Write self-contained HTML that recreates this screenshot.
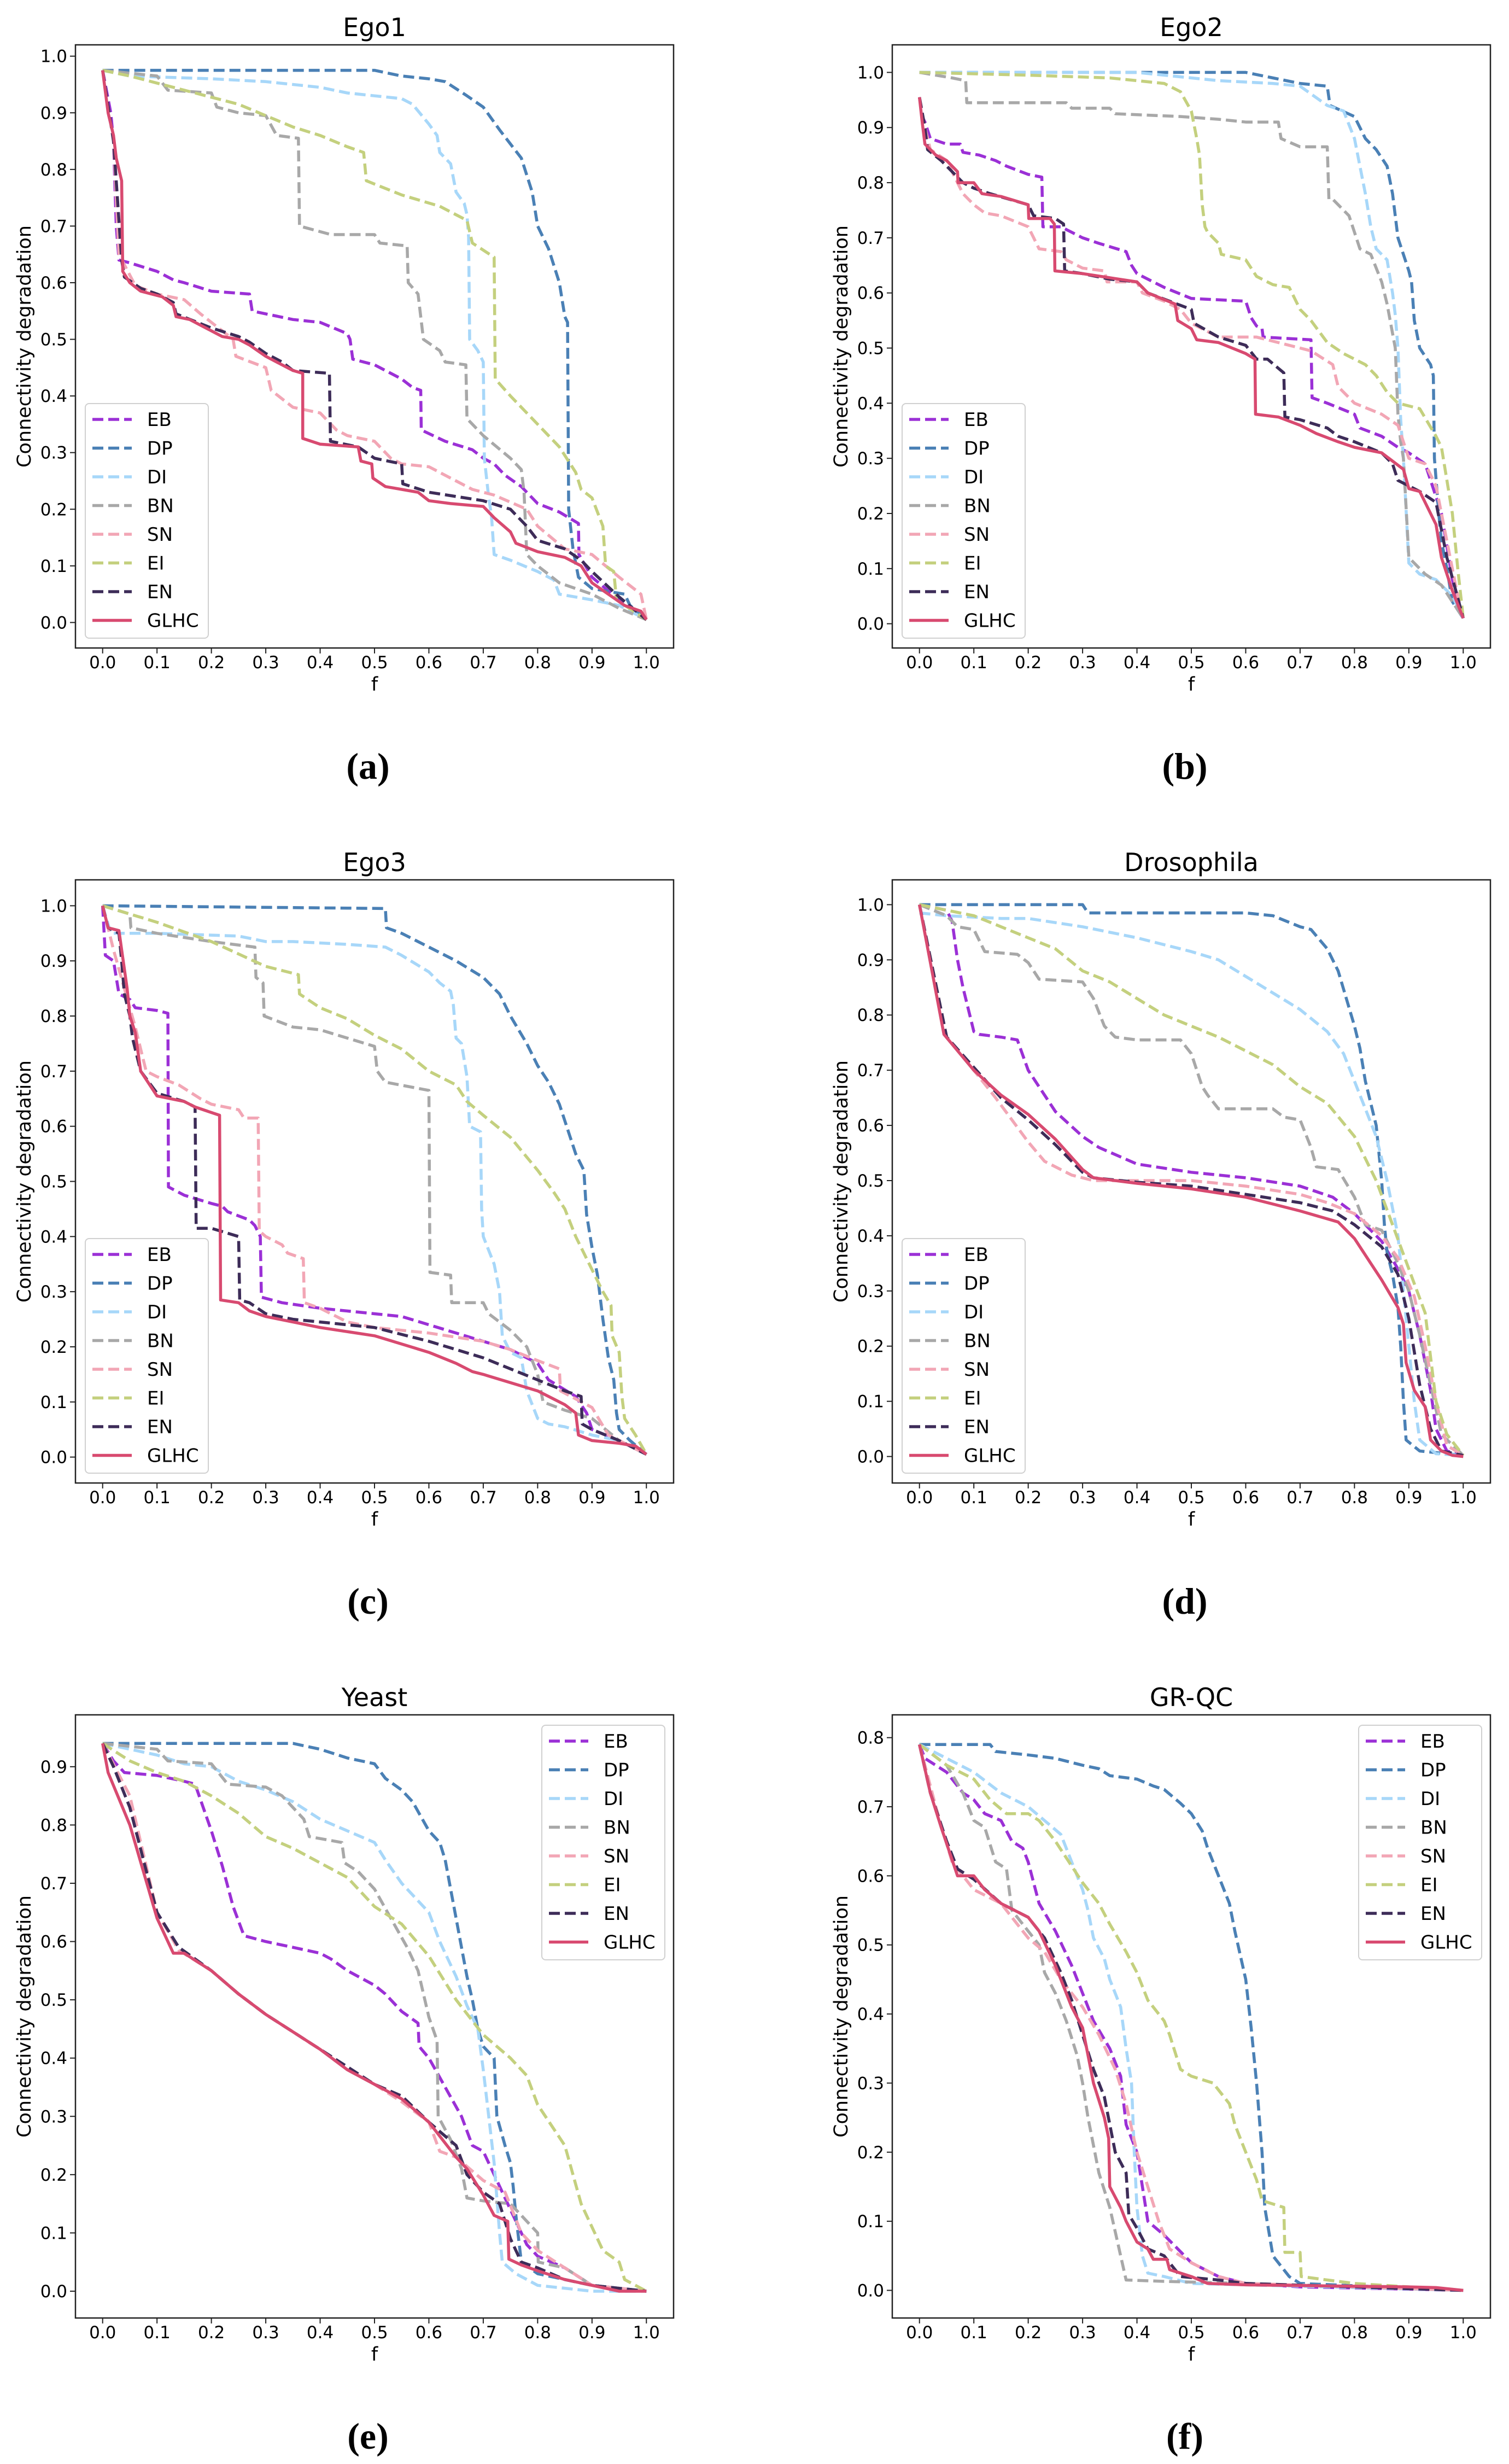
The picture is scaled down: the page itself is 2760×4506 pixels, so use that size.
<!DOCTYPE html>
<html><head><meta charset="utf-8">
<style>
html,body{margin:0;padding:0;background:#fff;}
svg{display:block;font-family:"DejaVu Sans","Liberation Sans",sans-serif;}
</style></head>
<body>
<svg id="fig" xmlns="http://www.w3.org/2000/svg" width="2760" height="4506" viewBox="0 0 2760 4506"></svg>
<script>
// ---------- DATA (f, connectivity degradation) ----------
const seriesNames = ["EB","DP","DI","BN","SN","EI","EN","GLHC"];
const xTicks = [0,0.1,0.2,0.3,0.4,0.5,0.6,0.7,0.8,0.9,1.0];
const yTicks10 = [0,0.1,0.2,0.3,0.4,0.5,0.6,0.7,0.8,0.9,1.0];
const yTicks9 = [0,0.1,0.2,0.3,0.4,0.5,0.6,0.7,0.8,0.9];
const yTicks8 = [0,0.1,0.2,0.3,0.4,0.5,0.6,0.7,0.8];
const panelTitles = ["Ego1","Ego2","Ego3","Drosophila","Yeast","GR-QC"];
const panelLetters = ["(a)","(b)","(c)","(d)","(e)","(f)"];

// Ego1
const ego1_EB=[[0,0.975],[0.015,0.9],[0.02,0.85],[0.025,0.7],[0.03,0.64],[0.05,0.635],[0.1,0.62],[0.13,0.605],[0.15,0.6],[0.2,0.585],[0.27,0.58],[0.275,0.55],[0.35,0.535],[0.4,0.53],[0.45,0.51],[0.455,0.5],[0.46,0.465],[0.5,0.455],[0.55,0.43],[0.57,0.415],[0.585,0.41],[0.586,0.34],[0.63,0.32],[0.68,0.305],[0.7,0.29],[0.72,0.28],[0.74,0.26],[0.77,0.24],[0.8,0.21],[0.84,0.195],[0.875,0.175],[0.876,0.12],[0.9,0.08],[0.95,0.04],[1.0,0.005]];
const ego1_DP=[[0,0.975],[0.5,0.975],[0.55,0.965],[0.6,0.96],[0.63,0.955],[0.67,0.93],[0.7,0.91],[0.73,0.87],[0.77,0.82],[0.79,0.76],[0.8,0.7],[0.82,0.66],[0.84,0.6],[0.85,0.54],[0.855,0.53],[0.857,0.2],[0.865,0.13],[0.875,0.08],[0.9,0.06],[0.96,0.05],[0.97,0.03],[1.0,0.005]];
const ego1_DI=[[0,0.975],[0.05,0.965],[0.2,0.96],[0.3,0.955],[0.4,0.945],[0.45,0.935],[0.55,0.925],[0.57,0.915],[0.6,0.88],[0.615,0.86],[0.62,0.83],[0.64,0.81],[0.65,0.76],[0.665,0.74],[0.67,0.72],[0.673,0.68],[0.675,0.5],[0.69,0.48],[0.7,0.46],[0.702,0.29],[0.71,0.22],[0.715,0.19],[0.72,0.12],[0.75,0.11],[0.8,0.09],[0.83,0.075],[0.84,0.05],[0.9,0.04],[0.95,0.03],[1.0,0.005]];
const ego1_BN=[[0,0.975],[0.1,0.965],[0.12,0.94],[0.2,0.935],[0.21,0.91],[0.25,0.9],[0.3,0.895],[0.32,0.86],[0.36,0.855],[0.362,0.7],[0.42,0.685],[0.5,0.685],[0.51,0.67],[0.56,0.665],[0.562,0.6],[0.58,0.58],[0.59,0.5],[0.62,0.48],[0.63,0.46],[0.668,0.455],[0.67,0.36],[0.7,0.33],[0.75,0.29],[0.77,0.27],[0.775,0.23],[0.78,0.12],[0.8,0.1],[0.84,0.07],[0.87,0.06],[0.9,0.05],[0.95,0.025],[1.0,0.005]];
const ego1_SN=[[0,0.975],[0.02,0.85],[0.03,0.65],[0.06,0.595],[0.1,0.58],[0.15,0.57],[0.18,0.545],[0.2,0.53],[0.24,0.5],[0.245,0.47],[0.3,0.45],[0.31,0.41],[0.35,0.38],[0.4,0.37],[0.42,0.35],[0.43,0.34],[0.45,0.33],[0.5,0.32],[0.53,0.29],[0.55,0.28],[0.6,0.275],[0.65,0.25],[0.68,0.235],[0.72,0.225],[0.78,0.2],[0.8,0.17],[0.85,0.13],[0.9,0.12],[0.95,0.08],[0.99,0.05],[1.0,0.005]];
const ego1_EI=[[0,0.975],[0.05,0.965],[0.15,0.94],[0.25,0.915],[0.3,0.895],[0.35,0.875],[0.4,0.86],[0.45,0.84],[0.48,0.83],[0.485,0.78],[0.55,0.755],[0.62,0.735],[0.67,0.71],[0.68,0.67],[0.72,0.645],[0.722,0.43],[0.75,0.4],[0.8,0.35],[0.84,0.31],[0.87,0.265],[0.88,0.235],[0.9,0.22],[0.92,0.17],[0.925,0.1],[0.94,0.09],[0.945,0.04],[1.0,0.005]];
const ego1_EN=[[0,0.975],[0.02,0.85],[0.035,0.64],[0.04,0.61],[0.07,0.59],[0.1,0.58],[0.13,0.565],[0.135,0.545],[0.2,0.52],[0.25,0.505],[0.27,0.495],[0.3,0.475],[0.33,0.46],[0.35,0.445],[0.417,0.44],[0.419,0.32],[0.47,0.31],[0.5,0.29],[0.55,0.28],[0.552,0.245],[0.6,0.23],[0.7,0.215],[0.75,0.2],[0.78,0.17],[0.8,0.145],[0.85,0.13],[0.88,0.11],[0.9,0.09],[0.95,0.045],[1.0,0.005]];
const ego1_GLHC=[[0,0.975],[0.01,0.9],[0.02,0.86],[0.025,0.82],[0.035,0.78],[0.037,0.62],[0.05,0.6],[0.07,0.585],[0.11,0.575],[0.13,0.56],[0.135,0.54],[0.16,0.535],[0.2,0.515],[0.22,0.505],[0.25,0.5],[0.27,0.49],[0.3,0.47],[0.33,0.455],[0.35,0.445],[0.368,0.44],[0.368,0.325],[0.4,0.315],[0.47,0.31],[0.475,0.285],[0.495,0.28],[0.497,0.255],[0.52,0.24],[0.58,0.23],[0.6,0.215],[0.64,0.21],[0.7,0.205],[0.72,0.185],[0.75,0.16],[0.76,0.14],[0.8,0.125],[0.85,0.115],[0.88,0.1],[0.9,0.07],[0.93,0.05],[0.96,0.03],[0.99,0.02],[1.0,0.005]];

// Ego2
const ego2_EB=[[0,0.955],[0.005,0.92],[0.01,0.91],[0.02,0.88],[0.05,0.87],[0.075,0.87],[0.08,0.855],[0.11,0.85],[0.14,0.84],[0.16,0.83],[0.2,0.815],[0.225,0.81],[0.227,0.72],[0.26,0.72],[0.3,0.7],[0.33,0.69],[0.38,0.675],[0.39,0.65],[0.4,0.635],[0.45,0.61],[0.5,0.59],[0.6,0.585],[0.61,0.555],[0.62,0.54],[0.63,0.535],[0.632,0.52],[0.72,0.515],[0.722,0.41],[0.75,0.4],[0.8,0.38],[0.81,0.355],[0.85,0.34],[0.88,0.32],[0.9,0.31],[0.93,0.29],[0.96,0.2],[0.98,0.08],[1.0,0.01]];
const ego2_DP=[[0,1.0],[0.6,1.0],[0.65,0.99],[0.7,0.98],[0.75,0.975],[0.755,0.94],[0.8,0.92],[0.82,0.88],[0.84,0.86],[0.86,0.83],[0.87,0.78],[0.88,0.7],[0.9,0.64],[0.905,0.62],[0.91,0.55],[0.92,0.5],[0.94,0.47],[0.945,0.45],[0.947,0.3],[0.955,0.2],[0.96,0.15],[0.97,0.1],[0.98,0.04],[1.0,0.01]];
const ego2_DI=[[0,1.0],[0.4,1.0],[0.5,0.99],[0.55,0.985],[0.65,0.98],[0.7,0.975],[0.75,0.94],[0.78,0.93],[0.8,0.88],[0.81,0.83],[0.82,0.78],[0.83,0.72],[0.84,0.68],[0.86,0.66],[0.87,0.6],[0.875,0.56],[0.88,0.5],[0.885,0.37],[0.89,0.3],[0.9,0.11],[0.92,0.09],[0.95,0.08],[0.98,0.05],[1.0,0.01]];
const ego2_BN=[[0,1.0],[0.06,0.99],[0.085,0.985],[0.087,0.945],[0.27,0.945],[0.28,0.935],[0.35,0.935],[0.36,0.925],[0.48,0.92],[0.55,0.915],[0.6,0.91],[0.66,0.91],[0.665,0.88],[0.7,0.865],[0.75,0.865],[0.753,0.77],[0.76,0.77],[0.79,0.74],[0.8,0.71],[0.81,0.68],[0.83,0.67],[0.85,0.62],[0.86,0.58],[0.875,0.5],[0.88,0.38],[0.885,0.33],[0.89,0.3],[0.9,0.12],[0.93,0.09],[0.96,0.07],[1.0,0.01]];
const ego2_SN=[[0,0.955],[0.01,0.9],[0.02,0.86],[0.05,0.84],[0.07,0.8],[0.08,0.78],[0.1,0.76],[0.12,0.745],[0.15,0.74],[0.2,0.72],[0.21,0.7],[0.22,0.68],[0.26,0.675],[0.27,0.66],[0.3,0.645],[0.34,0.64],[0.345,0.62],[0.4,0.62],[0.41,0.6],[0.45,0.585],[0.48,0.57],[0.5,0.545],[0.55,0.52],[0.62,0.52],[0.7,0.5],[0.72,0.495],[0.76,0.47],[0.77,0.43],[0.8,0.4],[0.85,0.38],[0.88,0.36],[0.9,0.3],[0.93,0.29],[0.95,0.25],[0.97,0.15],[0.99,0.05],[1.0,0.01]];
const ego2_EI=[[0,1.0],[0.2,0.995],[0.35,0.99],[0.4,0.985],[0.45,0.98],[0.48,0.965],[0.5,0.93],[0.51,0.88],[0.515,0.85],[0.52,0.76],[0.525,0.72],[0.53,0.71],[0.55,0.69],[0.555,0.67],[0.6,0.66],[0.62,0.63],[0.65,0.615],[0.68,0.61],[0.7,0.57],[0.72,0.55],[0.75,0.51],[0.78,0.49],[0.8,0.48],[0.82,0.47],[0.84,0.45],[0.86,0.42],[0.88,0.4],[0.92,0.39],[0.95,0.34],[0.96,0.32],[0.98,0.2],[0.99,0.1],[1.0,0.01]];
const ego2_EN=[[0,0.955],[0.01,0.9],[0.015,0.86],[0.04,0.84],[0.07,0.81],[0.08,0.8],[0.1,0.79],[0.13,0.78],[0.2,0.76],[0.21,0.74],[0.25,0.735],[0.265,0.725],[0.267,0.64],[0.3,0.635],[0.35,0.625],[0.4,0.62],[0.42,0.6],[0.5,0.57],[0.505,0.545],[0.55,0.52],[0.6,0.505],[0.62,0.48],[0.64,0.48],[0.67,0.455],[0.672,0.375],[0.7,0.37],[0.75,0.355],[0.77,0.34],[0.8,0.33],[0.85,0.31],[0.87,0.29],[0.88,0.26],[0.92,0.24],[0.95,0.22],[0.97,0.12],[1.0,0.01]];
const ego2_GLHC=[[0,0.955],[0.005,0.91],[0.01,0.87],[0.03,0.85],[0.05,0.84],[0.07,0.82],[0.071,0.8],[0.1,0.8],[0.115,0.78],[0.15,0.775],[0.2,0.76],[0.201,0.735],[0.24,0.735],[0.248,0.725],[0.249,0.64],[0.3,0.635],[0.4,0.62],[0.42,0.6],[0.47,0.58],[0.475,0.55],[0.5,0.535],[0.51,0.515],[0.55,0.51],[0.6,0.49],[0.617,0.48],[0.618,0.38],[0.66,0.375],[0.7,0.36],[0.73,0.345],[0.77,0.33],[0.8,0.32],[0.85,0.31],[0.89,0.28],[0.9,0.245],[0.92,0.24],[0.95,0.18],[0.96,0.12],[0.98,0.06],[1.0,0.01]];

// Ego3
const ego3_EB=[[0,1.0],[0.005,0.91],[0.02,0.9],[0.03,0.84],[0.05,0.83],[0.06,0.815],[0.1,0.81],[0.12,0.805],[0.121,0.49],[0.15,0.475],[0.2,0.46],[0.22,0.455],[0.23,0.445],[0.27,0.43],[0.28,0.42],[0.29,0.4],[0.292,0.29],[0.33,0.28],[0.4,0.27],[0.5,0.26],[0.55,0.255],[0.6,0.24],[0.65,0.225],[0.7,0.21],[0.75,0.195],[0.8,0.17],[0.82,0.14],[0.87,0.11],[0.89,0.08],[0.9,0.05],[0.95,0.03],[1.0,0.005]];
const ego3_DP=[[0,1.0],[0.52,0.995],[0.522,0.96],[0.55,0.95],[0.6,0.925],[0.65,0.9],[0.7,0.87],[0.73,0.84],[0.75,0.8],[0.78,0.75],[0.8,0.71],[0.82,0.68],[0.84,0.64],[0.86,0.58],[0.87,0.55],[0.885,0.52],[0.89,0.44],[0.9,0.38],[0.91,0.33],[0.92,0.25],[0.93,0.18],[0.94,0.14],[0.945,0.08],[0.95,0.05],[0.97,0.03],[1.0,0.005]];
const ego3_DI=[[0,1.0],[0.015,0.95],[0.1,0.95],[0.25,0.945],[0.3,0.935],[0.35,0.935],[0.45,0.93],[0.52,0.925],[0.55,0.91],[0.6,0.88],[0.62,0.86],[0.64,0.845],[0.645,0.82],[0.65,0.76],[0.66,0.75],[0.665,0.72],[0.67,0.69],[0.675,0.6],[0.695,0.59],[0.697,0.45],[0.7,0.4],[0.72,0.35],[0.73,0.3],[0.735,0.22],[0.75,0.19],[0.77,0.18],[0.78,0.12],[0.8,0.07],[0.82,0.06],[0.85,0.055],[0.9,0.04],[0.95,0.03],[1.0,0.005]];
const ego3_BN=[[0,1.0],[0.05,0.985],[0.052,0.96],[0.1,0.95],[0.2,0.935],[0.28,0.925],[0.282,0.87],[0.295,0.86],[0.297,0.8],[0.35,0.78],[0.4,0.775],[0.45,0.76],[0.5,0.745],[0.505,0.7],[0.52,0.68],[0.6,0.665],[0.602,0.335],[0.64,0.33],[0.642,0.28],[0.7,0.28],[0.71,0.26],[0.75,0.23],[0.78,0.2],[0.8,0.15],[0.81,0.1],[0.85,0.085],[0.9,0.07],[0.95,0.03],[1.0,0.005]];
const ego3_SN=[[0,1.0],[0.02,0.92],[0.04,0.85],[0.06,0.78],[0.07,0.74],[0.08,0.7],[0.1,0.69],[0.14,0.675],[0.18,0.65],[0.2,0.64],[0.25,0.63],[0.26,0.615],[0.286,0.615],[0.288,0.41],[0.3,0.4],[0.33,0.385],[0.34,0.37],[0.369,0.36],[0.371,0.28],[0.4,0.27],[0.45,0.245],[0.5,0.235],[0.6,0.225],[0.7,0.21],[0.75,0.195],[0.8,0.175],[0.84,0.16],[0.842,0.12],[0.9,0.09],[0.93,0.04],[1.0,0.005]];
const ego3_EI=[[0,1.0],[0.1,0.97],[0.2,0.935],[0.3,0.89],[0.36,0.875],[0.362,0.84],[0.4,0.815],[0.45,0.795],[0.5,0.765],[0.55,0.74],[0.6,0.7],[0.65,0.675],[0.67,0.645],[0.7,0.62],[0.75,0.58],[0.8,0.52],[0.83,0.48],[0.85,0.45],[0.87,0.4],[0.89,0.36],[0.92,0.3],[0.935,0.275],[0.937,0.22],[0.95,0.19],[0.955,0.11],[0.96,0.07],[0.98,0.04],[1.0,0.005]];
const ego3_EN=[[0,1.0],[0.01,0.96],[0.03,0.95],[0.035,0.9],[0.04,0.84],[0.05,0.8],[0.055,0.76],[0.07,0.7],[0.1,0.66],[0.15,0.645],[0.17,0.635],[0.172,0.415],[0.2,0.415],[0.25,0.4],[0.252,0.285],[0.27,0.28],[0.3,0.26],[0.35,0.25],[0.4,0.245],[0.5,0.235],[0.6,0.21],[0.65,0.195],[0.7,0.18],[0.75,0.16],[0.8,0.14],[0.85,0.12],[0.88,0.11],[0.882,0.06],[0.9,0.05],[0.95,0.03],[1.0,0.005]];
const ego3_GLHC=[[0,1.0],[0.01,0.96],[0.03,0.955],[0.035,0.92],[0.045,0.85],[0.05,0.8],[0.06,0.77],[0.07,0.7],[0.1,0.655],[0.15,0.645],[0.17,0.635],[0.2,0.625],[0.215,0.62],[0.217,0.285],[0.25,0.28],[0.27,0.265],[0.3,0.255],[0.35,0.245],[0.4,0.235],[0.5,0.22],[0.55,0.205],[0.6,0.19],[0.65,0.17],[0.68,0.155],[0.7,0.15],[0.75,0.135],[0.8,0.12],[0.85,0.095],[0.87,0.08],[0.875,0.04],[0.9,0.03],[0.95,0.025],[0.98,0.02],[1.0,0.005]];

// Drosophila
const dros_EB=[[0,1.0],[0.05,0.99],[0.06,0.97],[0.07,0.9],[0.08,0.85],[0.1,0.77],[0.11,0.765],[0.15,0.76],[0.18,0.755],[0.2,0.7],[0.22,0.67],[0.25,0.625],[0.3,0.58],[0.33,0.56],[0.4,0.53],[0.5,0.515],[0.6,0.505],[0.7,0.49],[0.76,0.47],[0.8,0.44],[0.85,0.39],[0.88,0.34],[0.9,0.3],[0.92,0.22],[0.94,0.12],[0.95,0.05],[0.97,0.01],[1.0,0.002]];
const dros_DP=[[0,1.0],[0.3,1.0],[0.31,0.985],[0.6,0.985],[0.65,0.98],[0.7,0.96],[0.72,0.955],[0.75,0.92],[0.77,0.88],[0.8,0.78],[0.81,0.74],[0.82,0.68],[0.83,0.64],[0.84,0.6],[0.85,0.5],[0.855,0.42],[0.86,0.37],[0.87,0.33],[0.88,0.27],[0.885,0.2],[0.89,0.1],[0.895,0.03],[0.92,0.01],[1.0,0.002]];
const dros_DI=[[0,0.985],[0.05,0.98],[0.15,0.975],[0.2,0.975],[0.3,0.96],[0.4,0.94],[0.5,0.915],[0.55,0.9],[0.6,0.87],[0.65,0.84],[0.7,0.81],[0.75,0.77],[0.78,0.73],[0.8,0.68],[0.82,0.63],[0.84,0.58],[0.86,0.5],[0.88,0.4],[0.89,0.3],[0.9,0.2],[0.91,0.1],[0.92,0.03],[0.95,0.005],[1.0,0.002]];
const dros_BN=[[0,1.0],[0.05,0.98],[0.07,0.96],[0.1,0.955],[0.12,0.915],[0.18,0.91],[0.2,0.895],[0.22,0.865],[0.3,0.86],[0.32,0.83],[0.34,0.78],[0.36,0.76],[0.4,0.755],[0.48,0.755],[0.5,0.73],[0.52,0.67],[0.53,0.655],[0.55,0.63],[0.65,0.63],[0.67,0.615],[0.7,0.61],[0.72,0.56],[0.73,0.525],[0.77,0.52],[0.8,0.47],[0.82,0.42],[0.85,0.41],[0.88,0.35],[0.9,0.3],[0.92,0.22],[0.94,0.13],[0.96,0.04],[1.0,0.002]];
const dros_SN=[[0,1.0],[0.05,0.76],[0.1,0.7],[0.14,0.65],[0.2,0.57],[0.23,0.535],[0.28,0.51],[0.32,0.5],[0.5,0.5],[0.6,0.49],[0.7,0.475],[0.75,0.46],[0.8,0.44],[0.85,0.4],[0.88,0.36],[0.91,0.29],[0.93,0.2],[0.95,0.1],[0.97,0.02],[1.0,0.002]];
const dros_EI=[[0,1.0],[0.1,0.98],[0.15,0.96],[0.2,0.94],[0.25,0.92],[0.3,0.88],[0.35,0.86],[0.4,0.83],[0.45,0.8],[0.5,0.78],[0.55,0.76],[0.6,0.735],[0.65,0.71],[0.7,0.67],[0.75,0.64],[0.8,0.58],[0.84,0.5],[0.87,0.42],[0.9,0.34],[0.93,0.26],[0.95,0.1],[0.97,0.04],[1.0,0.002]];
const dros_EN=[[0,1.0],[0.05,0.76],[0.1,0.705],[0.15,0.65],[0.2,0.61],[0.25,0.565],[0.3,0.515],[0.32,0.505],[0.4,0.497],[0.5,0.49],[0.6,0.475],[0.7,0.46],[0.76,0.445],[0.8,0.42],[0.85,0.38],[0.88,0.33],[0.9,0.25],[0.92,0.13],[0.94,0.05],[0.96,0.01],[1.0,0.002]];
const dros_GLHC=[[0,1.0],[0.045,0.765],[0.1,0.7],[0.15,0.655],[0.2,0.62],[0.25,0.575],[0.3,0.52],[0.32,0.505],[0.4,0.495],[0.5,0.485],[0.6,0.47],[0.7,0.445],[0.77,0.425],[0.8,0.395],[0.83,0.35],[0.85,0.32],[0.88,0.27],[0.89,0.24],[0.895,0.17],[0.91,0.12],[0.93,0.09],[0.94,0.03],[0.96,0.01],[0.98,0.002],[1.0,0.0]];

// Yeast
const yeast_EB=[[0,0.94],[0.02,0.91],[0.04,0.89],[0.1,0.885],[0.15,0.875],[0.17,0.87],[0.2,0.79],[0.22,0.73],[0.24,0.66],[0.26,0.61],[0.3,0.6],[0.35,0.59],[0.4,0.58],[0.42,0.57],[0.45,0.55],[0.5,0.525],[0.52,0.51],[0.55,0.48],[0.58,0.46],[0.582,0.42],[0.6,0.4],[0.63,0.35],[0.66,0.3],[0.68,0.25],[0.7,0.24],[0.72,0.2],[0.75,0.14],[0.78,0.08],[0.8,0.06],[0.85,0.04],[0.9,0.01],[1.0,0.0]];
const yeast_DP=[[0,0.94],[0.35,0.94],[0.4,0.93],[0.45,0.915],[0.5,0.905],[0.52,0.88],[0.55,0.86],[0.57,0.84],[0.6,0.79],[0.62,0.77],[0.63,0.74],[0.64,0.69],[0.65,0.64],[0.66,0.59],[0.67,0.54],[0.68,0.5],[0.69,0.45],[0.7,0.42],[0.72,0.4],[0.725,0.3],[0.74,0.25],[0.75,0.22],[0.755,0.18],[0.76,0.13],[0.77,0.05],[0.8,0.03],[0.85,0.02],[0.9,0.01],[1.0,0.0]];
const yeast_DI=[[0,0.94],[0.1,0.92],[0.15,0.905],[0.2,0.9],[0.25,0.875],[0.3,0.86],[0.35,0.84],[0.4,0.81],[0.45,0.79],[0.5,0.77],[0.52,0.74],[0.55,0.7],[0.6,0.65],[0.62,0.6],[0.65,0.54],[0.67,0.49],[0.69,0.45],[0.7,0.38],[0.71,0.3],[0.72,0.22],[0.73,0.1],[0.735,0.05],[0.76,0.03],[0.8,0.01],[0.9,0.0],[1.0,0.0]];
const yeast_BN=[[0,0.94],[0.1,0.93],[0.12,0.91],[0.2,0.905],[0.23,0.87],[0.3,0.865],[0.33,0.85],[0.37,0.81],[0.38,0.78],[0.44,0.77],[0.445,0.735],[0.47,0.72],[0.5,0.69],[0.53,0.64],[0.56,0.59],[0.58,0.55],[0.6,0.47],[0.615,0.43],[0.617,0.3],[0.64,0.26],[0.66,0.21],[0.67,0.16],[0.7,0.155],[0.75,0.15],[0.77,0.13],[0.8,0.1],[0.801,0.05],[0.85,0.04],[0.9,0.01],[1.0,0.0]];
const yeast_SN=[[0,0.94],[0.05,0.85],[0.1,0.65],[0.14,0.585],[0.2,0.55],[0.25,0.51],[0.3,0.475],[0.35,0.445],[0.4,0.415],[0.45,0.38],[0.5,0.355],[0.55,0.325],[0.6,0.29],[0.62,0.24],[0.65,0.23],[0.7,0.19],[0.74,0.17],[0.77,0.1],[0.8,0.07],[0.85,0.04],[0.9,0.01],[1.0,0.0]];
const yeast_EI=[[0,0.94],[0.05,0.91],[0.1,0.89],[0.15,0.875],[0.2,0.85],[0.25,0.82],[0.3,0.78],[0.35,0.76],[0.4,0.735],[0.45,0.71],[0.5,0.66],[0.55,0.63],[0.6,0.575],[0.65,0.5],[0.7,0.44],[0.75,0.4],[0.78,0.37],[0.8,0.32],[0.85,0.25],[0.88,0.15],[0.9,0.11],[0.92,0.07],[0.95,0.05],[0.96,0.02],[1.0,0.0]];
const yeast_EN=[[0,0.94],[0.02,0.9],[0.05,0.83],[0.1,0.65],[0.14,0.59],[0.2,0.55],[0.25,0.51],[0.3,0.475],[0.35,0.445],[0.4,0.415],[0.45,0.385],[0.5,0.355],[0.55,0.335],[0.6,0.29],[0.65,0.25],[0.67,0.2],[0.7,0.17],[0.73,0.15],[0.75,0.09],[0.77,0.05],[0.8,0.04],[0.85,0.02],[0.9,0.01],[1.0,0.0]];
const yeast_GLHC=[[0,0.94],[0.01,0.89],[0.05,0.8],[0.1,0.64],[0.13,0.58],[0.15,0.58],[0.2,0.55],[0.25,0.51],[0.3,0.475],[0.35,0.445],[0.4,0.415],[0.45,0.38],[0.5,0.355],[0.55,0.33],[0.6,0.29],[0.65,0.23],[0.67,0.21],[0.7,0.165],[0.72,0.13],[0.745,0.12],[0.747,0.055],[0.77,0.045],[0.8,0.035],[0.85,0.02],[0.9,0.01],[0.95,0.0],[1.0,0.0]];

// GR-QC
const grqc_EB=[[0,0.79],[0.01,0.77],[0.05,0.75],[0.08,0.72],[0.1,0.71],[0.12,0.69],[0.15,0.68],[0.17,0.65],[0.19,0.64],[0.2,0.62],[0.22,0.56],[0.25,0.52],[0.28,0.47],[0.3,0.43],[0.32,0.39],[0.35,0.35],[0.37,0.31],[0.38,0.24],[0.4,0.2],[0.41,0.15],[0.42,0.1],[0.45,0.08],[0.5,0.04],[0.55,0.02],[0.6,0.01],[0.7,0.005],[1.0,0.0]];
const grqc_DP=[[0,0.79],[0.13,0.79],[0.14,0.78],[0.2,0.775],[0.25,0.77],[0.3,0.76],[0.33,0.755],[0.35,0.745],[0.4,0.74],[0.43,0.73],[0.45,0.725],[0.48,0.705],[0.5,0.69],[0.52,0.665],[0.53,0.64],[0.55,0.6],[0.57,0.56],[0.58,0.52],[0.6,0.45],[0.61,0.38],[0.62,0.3],[0.63,0.2],[0.635,0.12],[0.65,0.05],[0.68,0.02],[0.7,0.01],[1.0,0.0]];
const grqc_DI=[[0,0.79],[0.05,0.77],[0.1,0.75],[0.15,0.72],[0.2,0.7],[0.23,0.68],[0.26,0.66],[0.28,0.62],[0.3,0.58],[0.31,0.55],[0.32,0.51],[0.34,0.48],[0.35,0.45],[0.37,0.41],[0.38,0.35],[0.39,0.3],[0.395,0.2],[0.4,0.12],[0.41,0.05],[0.42,0.025],[0.45,0.02],[0.5,0.01],[1.0,0.0]];
const grqc_BN=[[0,0.79],[0.05,0.76],[0.08,0.72],[0.1,0.68],[0.12,0.67],[0.14,0.62],[0.16,0.61],[0.17,0.55],[0.2,0.52],[0.22,0.5],[0.23,0.46],[0.25,0.43],[0.27,0.39],[0.29,0.34],[0.3,0.3],[0.31,0.25],[0.33,0.17],[0.35,0.12],[0.37,0.05],[0.38,0.015],[0.45,0.013],[0.6,0.01],[1.0,0.0]];
const grqc_SN=[[0,0.79],[0.03,0.7],[0.06,0.62],[0.1,0.58],[0.15,0.56],[0.2,0.51],[0.23,0.49],[0.26,0.45],[0.3,0.41],[0.33,0.37],[0.36,0.32],[0.38,0.27],[0.4,0.2],[0.42,0.15],[0.44,0.1],[0.46,0.06],[0.5,0.04],[0.55,0.02],[0.6,0.01],[1.0,0.0]];
const grqc_EI=[[0,0.79],[0.05,0.76],[0.1,0.74],[0.13,0.71],[0.16,0.69],[0.2,0.69],[0.22,0.68],[0.25,0.65],[0.3,0.59],[0.33,0.56],[0.35,0.53],[0.38,0.49],[0.4,0.46],[0.42,0.42],[0.45,0.39],[0.46,0.37],[0.48,0.32],[0.5,0.31],[0.54,0.3],[0.57,0.27],[0.58,0.24],[0.6,0.2],[0.62,0.16],[0.63,0.13],[0.67,0.12],[0.672,0.055],[0.7,0.055],[0.702,0.02],[0.75,0.015],[0.8,0.01],[1.0,0.0]];
const grqc_EN=[[0,0.79],[0.02,0.72],[0.05,0.65],[0.07,0.61],[0.1,0.595],[0.15,0.56],[0.2,0.54],[0.23,0.51],[0.26,0.46],[0.28,0.42],[0.3,0.37],[0.32,0.32],[0.34,0.28],[0.36,0.2],[0.38,0.17],[0.385,0.11],[0.4,0.09],[0.42,0.06],[0.45,0.05],[0.48,0.02],[0.55,0.015],[0.6,0.01],[1.0,0.0]];
const grqc_GLHC=[[0,0.79],[0.02,0.72],[0.04,0.67],[0.07,0.6],[0.1,0.6],[0.12,0.58],[0.15,0.56],[0.2,0.54],[0.22,0.52],[0.25,0.47],[0.28,0.41],[0.3,0.38],[0.32,0.3],[0.34,0.25],[0.348,0.22],[0.35,0.15],[0.37,0.12],[0.38,0.1],[0.4,0.07],[0.42,0.06],[0.43,0.045],[0.455,0.045],[0.46,0.03],[0.5,0.02],[0.53,0.01],[0.6,0.008],[0.9,0.005],[0.95,0.004],[1.0,0.0]];

const panelSeries = [
  [ego1_EB,ego1_DP,ego1_DI,ego1_BN,ego1_SN,ego1_EI,ego1_EN,ego1_GLHC],
  [ego2_EB,ego2_DP,ego2_DI,ego2_BN,ego2_SN,ego2_EI,ego2_EN,ego2_GLHC],
  [ego3_EB,ego3_DP,ego3_DI,ego3_BN,ego3_SN,ego3_EI,ego3_EN,ego3_GLHC],
  [dros_EB,dros_DP,dros_DI,dros_BN,dros_SN,dros_EI,dros_EN,dros_GLHC],
  [yeast_EB,yeast_DP,yeast_DI,yeast_BN,yeast_SN,yeast_EI,yeast_EN,yeast_GLHC],
  [grqc_EB,grqc_DP,grqc_DI,grqc_BN,grqc_SN,grqc_EI,grqc_EN,grqc_GLHC]
];

// ---------- STYLE / LAYOUT ----------
const colors = ["#9b30d6","#4a80b5","#a7d7f9","#a8a8a8","#f2a6b5","#c4d07e","#3d2c58","#d84a70"];
const colLeft = [138,1632], rowTop = [82,1609,3136], boxW = 1094, boxH = 1103;
const yDomains = [[-0.045,1.02],[-0.044,1.05],[-0.047,1.047],[-0.048,1.045],[-0.046,0.989],[-0.040,0.833]];
const yTickSets = [yTicks10,yTicks10,yTicks10,yTicks10,yTicks9,yTicks8];
const legendUpperRight = [false,false,false,false,true,true];

const NS = "http://www.w3.org/2000/svg";
const svg = document.getElementById("fig");
function mk(tag, attrs, parent){ const e=document.createElementNS(NS,tag); for(const k in attrs) e.setAttribute(k,attrs[k]); (parent||svg).appendChild(e); return e; }

for(let p=0;p<6;p++){
  const L = colLeft[p%2], T = rowTop[Math.floor(p/2)];
  const xs = v => L + (v+0.05)/1.1*boxW;
  const yd = yDomains[p];
  const ys = v => T + (yd[1]-v)/(yd[1]-yd[0])*boxH;
  const g = mk("g",{});
  
  

  const clip = mk("clipPath",{id:"clip"+p},g);
  mk("rect",{x:L,y:T,width:boxW,height:boxH},clip);

  // title
  const t = mk("text",{x:L+boxW/2,y:T-16,"text-anchor":"middle","font-size":46,fill:"#000"},g);
  t.textContent = panelTitles[p];
  
  

  // series
  const sg = mk("g",{"clip-path":"url(#clip"+p+")"},g);
  panelSeries[p].forEach((arr,i)=>{
    const d = arr.map((pt,j)=>(j?"L":"M")+xs(pt[0]).toFixed(1)+","+ys(pt[1]).toFixed(1)).join("");
    const path = mk("path",{d:d,fill:"none",stroke:colors[i],"stroke-width":5.5,"stroke-linejoin":"round"},sg);
    if(i<7) path.setAttribute("stroke-dasharray","20,9");
    
    
  });

  // box
  const box = mk("rect",{x:L,y:T,width:boxW,height:boxH,fill:"none",stroke:"#222","stroke-width":2.5},g);
  
  

  // x ticks
  xTicks.forEach(v=>{
    const x = xs(v);
    mk("line",{x1:x,x2:x,y1:T+boxH,y2:T+boxH+10,stroke:"#222","stroke-width":2},g);
    const tx = mk("text",{x:x,y:T+boxH+37,"text-anchor":"middle","font-size":31,fill:"#000"},g);
    tx.textContent = v.toFixed(1);
    
    
  });
  // y ticks
  yTickSets[p].forEach(v=>{
    const y = ys(v);
    mk("line",{x1:L-10,x2:L,y1:y,y2:y,stroke:"#222","stroke-width":2},g);
    const ty = mk("text",{x:L-15,y:y+11,"text-anchor":"end","font-size":31,fill:"#000"},g);
    ty.textContent = v.toFixed(1);
    
    
  });
  // axis titles
  const xl = mk("text",{x:L+boxW/2,y:T+boxH+78,"text-anchor":"middle","font-size":35,fill:"#000"},g);
  xl.textContent = "f";
  
  
  const cy = T+boxH/2, cx = L-82;
  const yl = mk("text",{x:cx,y:cy,"text-anchor":"middle","font-size":35,fill:"#000",transform:"rotate(-90 "+cx+" "+cy+")"},g);
  yl.textContent = "Connectivity degradation";
  
  

  // legend
  const lw = 225, lh = 429;
  const lx = legendUpperRight[p] ? L+boxW-16-lw : L+18;
  const ly = legendUpperRight[p] ? T+19 : T+boxH-18-lh;
  const lg = mk("g",{},g);
  
  
  mk("rect",{x:lx,y:ly,width:lw,height:lh,rx:7,fill:"#fff","fill-opacity":0.85,stroke:"#d0d0d0","stroke-width":2},lg);
  seriesNames.forEach((n,i)=>{
    const yy = ly+29+i*52.5;
    const ln = mk("line",{x1:lx+13,x2:lx+85,y1:yy,y2:yy,stroke:colors[i],"stroke-width":5.5},lg);
    if(i<7) ln.setAttribute("stroke-dasharray","20,9");
    const lt = mk("text",{x:lx+113,y:yy+12,"font-size":34,fill:"#000"},lg);
    lt.textContent = n;
    
    
  });

  // panel letter
  const pl = mk("text",{x:L+boxW/2-12,y:T+1342,"text-anchor":"middle","font-size":68,"font-weight":"bold","font-family":"'Liberation Serif',serif",fill:"#000"},g);
  pl.textContent = panelLetters[p];
  
  
}
</script>
</body></html>
